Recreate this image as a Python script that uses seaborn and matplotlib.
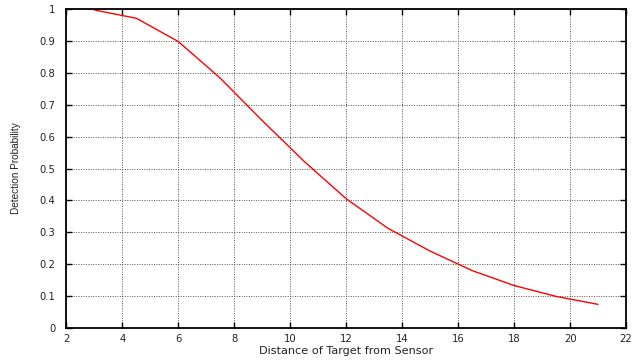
import pandas as pd
import numpy as np
import seaborn as sns
import matplotlib.pyplot as plt

# detection curve
distance = [3, 4.5, 6, 7.5, 9, 10.5, 12, 13.5, 15, 16.5, 18, 19.5, 21]
prob = [0.997, 0.971, 0.898, 0.783, 0.650, 0.522, 0.405, 0.312, 0.241,
        0.180, 0.133, 0.099, 0.074]

xticks = [2, 4, 6, 8, 10, 12, 14, 16, 18, 20, 22]
yticks = [0, 0.1, 0.2, 0.3, 0.4, 0.5, 0.6, 0.7, 0.8, 0.9, 1]
ytick_labels = ['0', '0.1', '0.2', '0.3', '0.4', '0.5', '0.6', '0.7', '0.8',
                '0.9', '1']

df = pd.DataFrame({'dist': distance, 'prob': prob})

sns.set_style('ticks')
plt.rcParams['font.family'] = ['DejaVu Sans']

fig = plt.figure(figsize=(6.33, 3.62), dpi=100)
ax = fig.add_axes([0.105, 0.094, 0.884, 0.881])

sns.lineplot(data=df, x='dist', y='prob', color='#ff0000', linewidth=1.0,
             ax=ax)

ax.set_xlim(2, 22)
ax.set_ylim(0, 1)
ax.set_xticks(xticks)
ax.set_xticklabels([str(t) for t in xticks])
ax.set_yticks(yticks)
ax.set_yticklabels(ytick_labels)

ax.grid(True, linestyle=(0, (1, 1.5)), color='#555555', linewidth=0.7)
ax.tick_params(direction='in', length=4, width=1, top=True, right=True,
               labelsize=7.2, colors='black', labelcolor='#222222')
ax.tick_params(axis='y', pad=8)
ax.tick_params(axis='x', pad=4)
for s in ax.spines.values():
    s.set_visible(True)
    s.set_linewidth(1.3)
    s.set_color('black')

ax.set_xlabel('Distance of Target from Sensor', fontsize=8.1, labelpad=2,
              color='#222222')
# y label is narrower in the original, so a condensed-ish family
ax.set_ylabel('Detection Probability', fontsize=7.2, labelpad=13,
              family='Liberation Sans', color='#222222')

fig.savefig('out.png', dpi=100)
